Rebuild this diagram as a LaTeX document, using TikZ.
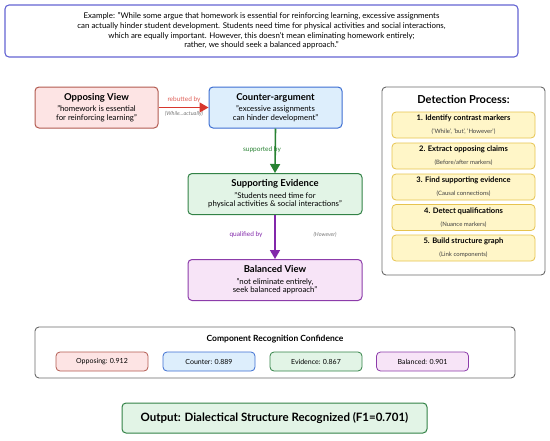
\documentclass[tikz,border=0pt]{standalone}
\usepackage{fontspec}
\setmainfont{Lato}
\usetikzlibrary{arrows.meta}
\definecolor{topb}{RGB}{100,100,210}
\definecolor{oppf}{RGB}{253,228,228}\definecolor{oppb}{RGB}{178,90,80}
\definecolor{cntf}{RGB}{221,238,252}\definecolor{cntb}{RGB}{60,110,210}
\definecolor{evif}{RGB}{226,244,230}\definecolor{evib}{RGB}{50,130,70}
\definecolor{balf}{RGB}{247,228,247}\definecolor{balb}{RGB}{140,60,170}
\definecolor{redar}{RGB}{215,55,45}
\definecolor{grnar}{RGB}{40,130,50}
\definecolor{purar}{RGB}{130,40,170}
\definecolor{yelf}{RGB}{255,246,200}\definecolor{yelb}{RGB}{230,195,80}
\definecolor{grayb}{RGB}{105,105,105}
\definecolor{lbl}{RGB}{120,120,120}
\newcommand{\cttl}[1]{{\fontsize{9.5}{11}\selectfont\bfseries #1}}
\newcommand{\stp}[4]{\node[ybox] (#1) at (463.5,#2) {{\bfseries\fontsize{7.6}{9}\selectfont #3}\\[1pt]{\fontsize{6}{7}\selectfont\color{black!75} #4}};}
\begin{document}
\begin{tikzpicture}[x=1pt,y=-1pt,
  box/.style={draw, rounded corners=4pt, line width=1pt, align=center, inner sep=0pt, anchor=center},
  comp/.style={box, minimum width=#1, minimum height=41pt, font=\fontsize{7.8}{8.6}\selectfont},
  ybox/.style={box, draw=yelb, fill=yelf, line width=0.8pt, minimum width=143pt, minimum height=26pt},
  cbox/.style={box, line width=0.8pt, minimum width=92pt, minimum height=19pt, font=\fontsize{7}{8}\selectfont},
  elab/.style={font=\fontsize{6.5}{7}\selectfont},
  glab/.style={font=\itshape\fontsize{5.5}{6}\selectfont, text=lbl},
  arr/.style={line width=1.6pt, -{Triangle[length=9pt,width=10pt]}}
]
\useasboundingbox (0,0) rectangle (550,440);
% top example box
\node[box, draw=topb, line width=1.1pt, minimum width=513pt, minimum height=52pt, font=\fontsize{7.9}{9.6}\selectfont] (ex) at (261.5,31)
 {Example: "While some argue that homework is essential for reinforcing learning, excessive assignments\\
 can actually hinder student development. Students need time for physical activities and social interactions,\\
 which are equally important. However, this doesn't mean eliminating homework entirely;\\
 rather, we should seek a balanced approach."};
% components
\node[comp=123pt, draw=oppb, fill=oppf] (opp) at (96.5,107.5)
 {\cttl{Opposing View}\\[3pt] "homework is essential\\ for reinforcing learning"};
\node[comp=133pt, draw=cntb, fill=cntf] (cnt) at (275.5,107.5)
 {\cttl{Counter-argument}\\[3pt] "excessive assignments\\ can hinder development"};
\node[comp=174pt, draw=evib, fill=evif] (evi) at (275,194)
 {\cttl{Supporting Evidence}\\[3pt] "Students need time for\\ physical activities \& social interactions"};
\node[comp=174pt, draw=balb, fill=balf] (bal) at (275,280)
 {\cttl{Balanced View}\\[3pt] "not eliminate entirely,\\ seek balanced approach"};
% arrows
\draw[arr, draw=redar] (opp.east) -- (cnt.west);
\node[elab, text=redar!80] (l1) at (184,100) {rebutted by};
\node[glab] (l2) at (184,114) {(While...actually)};
\draw[arr, draw=grnar] (cnt.south) -- (evi.north);
\node[elab, text=grnar] (l3) at (262,150) {supported by};
\draw[arr, draw=purar] (evi.south) -- (bal.north);
\node[elab, text=purar] (l4) at (246,235) {qualified by};
\node[glab] (l5) at (325,235) {(However)};
% detection process
\node[box, draw=grayb, line width=0.9pt, minimum width=163pt, minimum height=188pt] (det) at (463.5,181) {};
\node[font=\bfseries\fontsize{11}{13}\selectfont] (dett) at (463.5,99.5) {Detection Process:};
\stp{s1}{125}{1. Identify contrast markers}{('While', 'but', 'However')}
\stp{s2}{156}{2. Extract opposing claims}{(Before/after markers)}
\stp{s3}{187}{3. Find supporting evidence}{(Causal connections)}
\stp{s4}{217.5}{4. Detect qualifications}{(Nuance markers)}
\stp{s5}{248}{5. Build structure graph}{(Link components)}
% confidence
\node[box, draw=grayb, line width=0.9pt, minimum width=480pt, minimum height=51pt] (conf) at (275,352.5) {};
\node[font=\bfseries\fontsize{8.5}{10}\selectfont] (conft) at (275,339) {Component Recognition Confidence};
\node[cbox, draw=oppb, fill=oppf] (c1) at (102,361.5) {Opposing: 0.912};
\node[cbox, draw=cntb, fill=cntf] (c2) at (209,361.5) {Counter: 0.889};
\node[cbox, draw=evib, fill=evif] (c3) at (316,361.5) {Evidence: 0.867};
\node[cbox, draw=balb, fill=balf] (c4) at (422.5,361.5) {Balanced: 0.901};
% output
\node[box, draw=evib, fill=evif, line width=1pt, minimum width=305pt, minimum height=30pt, font=\bfseries\fontsize{11.5}{13}\selectfont] (out) at (274.5,418) {Output: Dialectical Structure Recognized (F1=0.701)};
\end{tikzpicture}
\end{document}
